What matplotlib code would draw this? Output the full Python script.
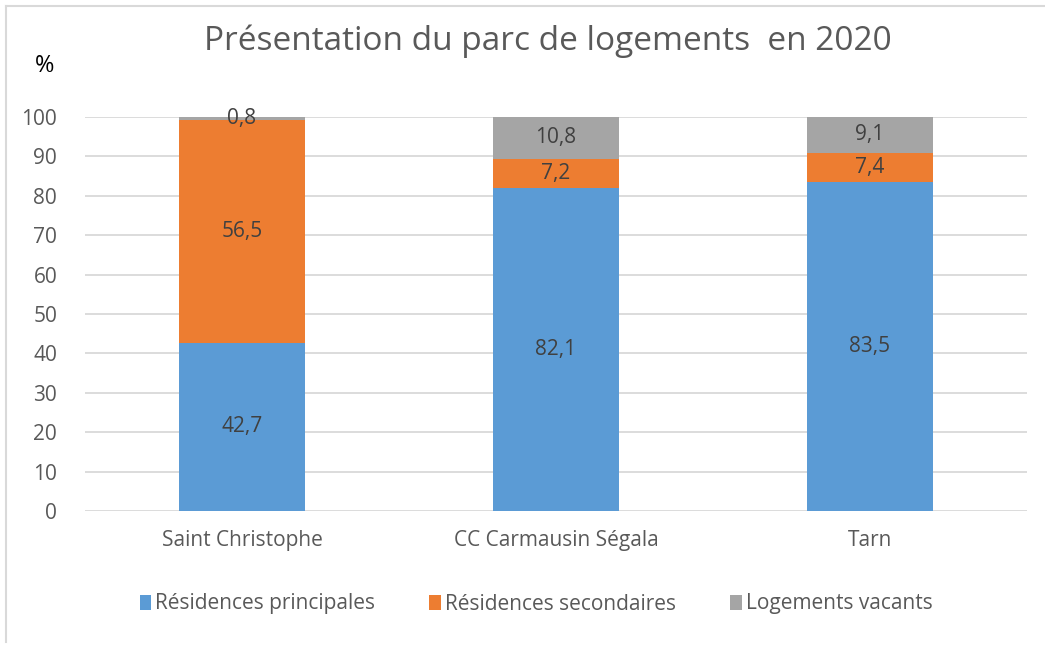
#!/usr/bin/env python3

import numpy as np
import matplotlib.pyplot as plt

categories = ['Saint Christophe', 'CC Carmausin Ségala', 'Tarn']
principales = [42.7, 82.1, 83.5]
secondaires = [56.5, 7.2, 7.4]
vacants = [0.8, 10.8, 9.1]
series_names = ['Résidences principales', 'Résidences secondaires', 'Logements vacants']
colors = ['#5B9BD5', '#ED7D31', '#A5A5A5']

plt.rcParams['font.family'] = ['Open Sans', 'DejaVu Sans']

fig = plt.figure(figsize=(10.45, 6.45), dpi=100)
ax = fig.add_axes([85 / 1045, 134 / 645, 942 / 1045, 394 / 645])

x = np.arange(len(categories))
bottom = np.zeros(len(categories))
for name, vals, col in zip(series_names, [principales, secondaires, vacants], colors):
    vals = np.array(vals)
    bars = ax.bar(x, vals, 0.4, bottom=bottom, color=col, label=name, zorder=2)
    for b, v, y0 in zip(bars, vals, bottom):
        ax.text(b.get_x() + b.get_width() / 2, y0 + v / 2,
                f'{v:.1f}'.replace('.', ','),
                ha='center', va='center', fontsize=15, color='#404040', zorder=3)
    bottom += vals

ax.set_xlim(-0.5, 2.5)
ax.set_ylim(0, 100)
ax.set_yticks(range(0, 101, 10))
ax.yaxis.grid(True, color='#D9D9D9', linewidth=1.3, zorder=0)
ax.set_axisbelow(True)
for s in ax.spines.values():
    s.set_visible(False)
ax.tick_params(length=0, labelsize=15, labelcolor='#595959')
ax.tick_params(axis='y', pad=20)
ax.tick_params(axis='x', pad=14)
ax.set_xticks(x)
ax.set_xticklabels(categories)

fig.text(548 / 1045, 1 - 41 / 645, 'Présentation du parc de logements  en 2020',
         ha='center', va='center', fontsize=24, color='#595959')
fig.text(45 / 1045, 1 - 66 / 645, '%', ha='center', va='center',
         fontsize=17, color='#000000')

fig.legend(loc='center', bbox_to_anchor=(536 / 1045, 1 - 604 / 645), ncol=3,
           frameon=False, fontsize=15, handlelength=0.55, handleheight=0.7,
           handletextpad=0.2, columnspacing=2.6, labelcolor='#595959')

# frame lines of the original picture
fig.add_artist(plt.Line2D([6 / 1045, 6 / 1045], [0.005, 1 - 6 / 645],
                          transform=fig.transFigure, color='#D9D9D9', lw=1.5))
fig.add_artist(plt.Line2D([6 / 1045, 1], [1 - 6 / 645, 1 - 6 / 645],
                          transform=fig.transFigure, color='#D9D9D9', lw=1.5))

fig.savefig('out.png', dpi=100)
